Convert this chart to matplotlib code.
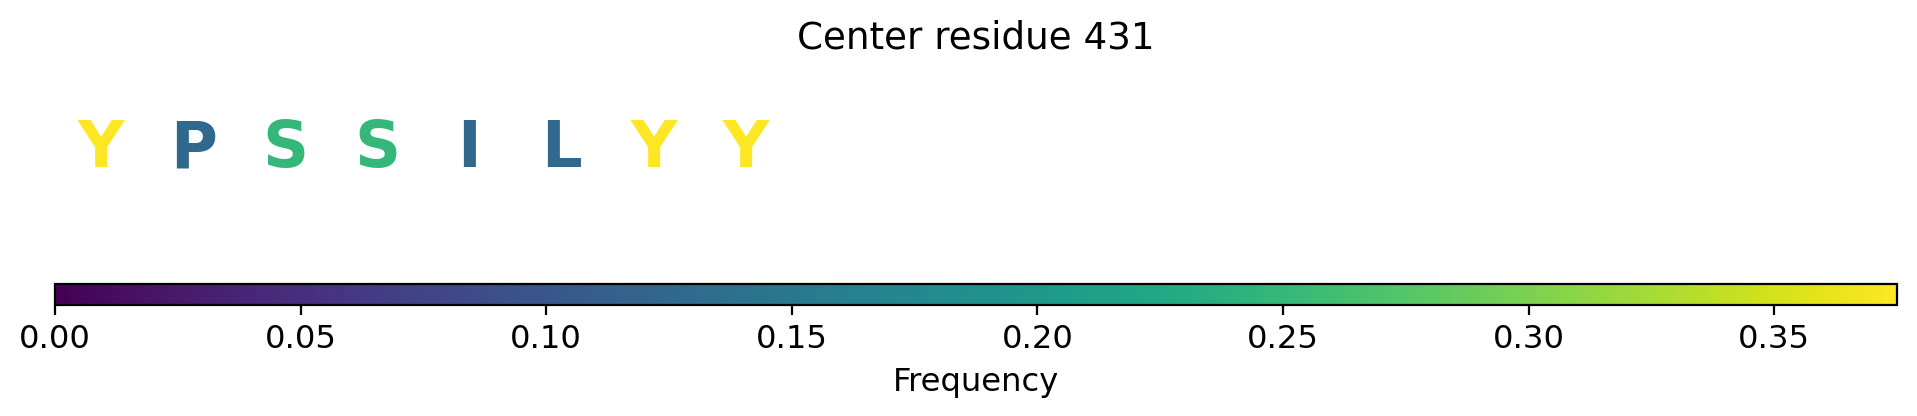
import matplotlib
matplotlib.use("Agg")
import matplotlib.pyplot as plt
from matplotlib import cm, colors

# residues in the window and how often each letter occurs there
residues = ["Y", "P", "S", "S", "I", "L", "Y", "Y"]
freqs = [0.375, 0.125, 0.25, 0.25, 0.125, 0.125, 0.375, 0.375]
center = 431
vmax = 0.375

W, H = 1917, 416
fig = plt.figure(figsize=(W / 200, H / 200), dpi=200)

left, right = 55, 1897
ax = fig.add_axes([left / W, 1 - 222 / H, (right - left) / W, (222 - 65) / H])
ax.set_xlim(-0.5, 19.5)
ax.set_ylim(0, 1)
ax.axis("off")

norm = colors.Normalize(vmin=0, vmax=vmax)
cmap = plt.get_cmap("viridis")

for i, (r, f) in enumerate(zip(residues, freqs)):
    ax.text(i, 0.35, r, ha="center", va="baseline", fontsize=23,
            fontweight="bold", color=cmap(norm(f)))

ax.set_title(f"Center residue {center}", fontsize=13.4)

cax = fig.add_axes([left / W, 1 - 305 / H, (right - left) / W, 21 / H])
sm = cm.ScalarMappable(norm=norm, cmap=cmap)
cb = fig.colorbar(sm, cax=cax, orientation="horizontal")
cb.set_label("Frequency", fontsize=11.6)
cb.ax.tick_params(labelsize=11.6)

fig.savefig("out.png", dpi=200)
